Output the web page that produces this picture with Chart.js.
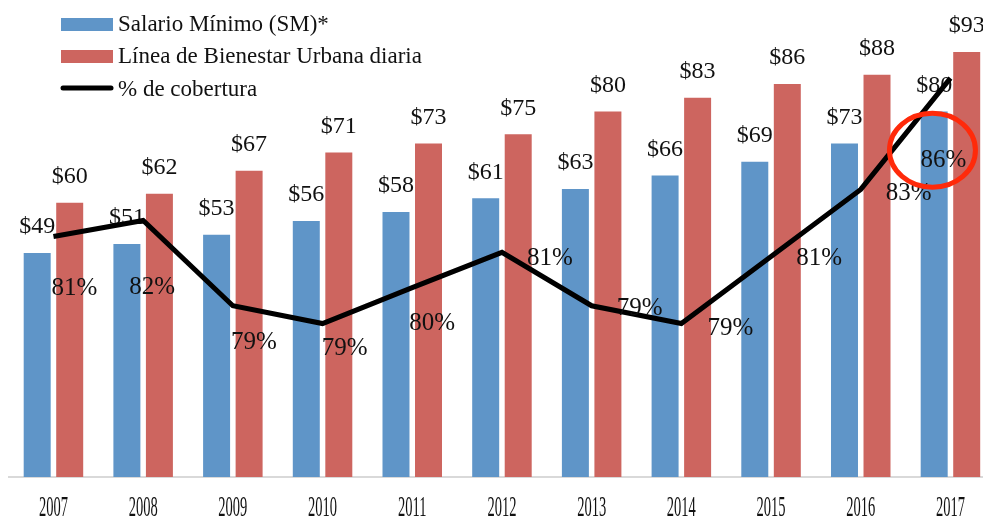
<!DOCTYPE html>
<html>
<head>
<meta charset="utf-8">
<script src="https://cdn.jsdelivr.net/npm/chart.js@4.4.0/dist/chart.umd.min.js"></script>
<style>
html, body { margin: 0; padding: 0; overflow: hidden; background: #fff; }
#wrap { width: 1000px; height: 517px; position: relative; }
</style>
</head>
<body>
<div id="wrap"><canvas id="grafica"></canvas></div>
<script>
var years = ["2007", "2008", "2009", "2010", "2011", "2012", "2013", "2014", "2015", "2016", "2017"];
var salarioMinimo = [49, 51, 53, 56, 58, 61, 63, 66, 69, 73, 80];
var lineaBienestar = [60, 62, 67, 71, 73, 75, 80, 83, 86, 88, 93];
var cobertura = [81.73, 82.16, 79.86, 79.38, 80.35, 81.30, 79.86, 79.38, 81.19, 83.0, 86.0];

// where each % label sits relative to its point (moved by hand in the original)
var pctDx = [21, 9, 21, 22, 20, 48, 48, 49, 48, 48, -7];
var pctDy = [52, 67, 37, 25, 36, 6, 3, 5, 2, 4, 82];

var azul = "#5f95c8";
var rojo = "#cd655f";
var serif = "'Liberation Serif', 'DejaVu Serif', serif";

var etiquetas = {
    id: "etiquetas",
    afterDatasetDraw: function (chart, args) {
        var ds = chart.data.datasets[args.index];
        if (ds.type !== "bar") return;
        var ctx = chart.ctx;
        ctx.save();
        ctx.font = "24px " + serif;
        ctx.fillStyle = "#111";
        ctx.textAlign = "center";
        ctx.textBaseline = "middle";
        args.meta.data.forEach(function (el, i) {
            ctx.fillText("$" + ds.data[i], el.x, el.y - 26);
        });
        ctx.restore();
    },
    afterDatasetsDraw: function (chart) {
        var ctx = chart.ctx;
        var lineMeta = chart.getDatasetMeta(2);

        // % labels
        ctx.save();
        ctx.font = "25px " + serif;
        ctx.fillStyle = "#111";
        ctx.textAlign = "center";
        ctx.textBaseline = "middle";
        lineMeta.data.forEach(function (pt, i) {
            ctx.fillText(Math.floor(cobertura[i]) + "%", pt.x + pctDx[i], pt.y + pctDy[i]);
        });

        // red circle around the last label
        var last = lineMeta.data[lineMeta.data.length - 1];
        var n = cobertura.length - 1;
        ctx.beginPath();
        ctx.ellipse(last.x + pctDx[n] - 11, last.y + pctDy[n] - 10, 43, 37, 0, 0, Math.PI * 2);
        ctx.strokeStyle = "#ff2a0a";
        ctx.lineWidth = 5;
        ctx.stroke();

        // year labels, narrow like the original
        var xs = chart.scales.x;
        ctx.fillStyle = "#111";
        ctx.font = "29px " + serif;
        years.forEach(function (y, i) {
            ctx.save();
            ctx.translate(xs.getPixelForValue(i), 508);
            ctx.scale(0.5, 1);
            ctx.fillText(y, 0, 0);
            ctx.restore();
        });

        // legend in the top left corner
        ctx.font = "23px " + serif;
        ctx.textAlign = "left";
        var rows = [24, 56, 89];
        chart.data.datasets.forEach(function (ds, i) {
            var y = rows[i];
            if (ds.type === "bar") {
                ctx.fillStyle = ds.backgroundColor;
                ctx.fillRect(61, y - 6, 52, 13);
            } else {
                ctx.beginPath();
                ctx.moveTo(63, y - 1);
                ctx.lineTo(111, y - 1);
                ctx.strokeStyle = "#000";
                ctx.lineWidth = 5;
                ctx.lineCap = "round";
                ctx.stroke();
            }
            ctx.fillStyle = "#111";
            ctx.fillText(ds.label, 118, y + 1);
        });
        ctx.restore();
    }
};

new Chart("grafica", {
    data: {
        labels: years,
        datasets: [{
            type: "bar",
            label: "Salario Mínimo (SM)*",
            data: salarioMinimo,
            backgroundColor: azul,
            order: 1,
            yAxisID: "y"
        }, {
            type: "bar",
            label: "Línea de Bienestar Urbana diaria",
            data: lineaBienestar,
            backgroundColor: rojo,
            order: 2,
            yAxisID: "y"
        }, {
            type: "line",
            label: "% de cobertura",
            data: cobertura,
            borderColor: "#000",
            borderWidth: 5,
            pointRadius: 0,
            tension: 0,
            fill: false,
            order: 0,
            yAxisID: "y1"
        }]
    },
    options: {
        responsive: true,
        maintainAspectRatio: false,
        animation: false,
        layout: { padding: { left: 8.6, right: 4.7, top: 20, bottom: 40 } },
        datasets: {
            bar: { categoryPercentage: 0.725, barPercentage: 0.83 }
        },
        plugins: {
            legend: { display: false },
            tooltip: { enabled: false }
        },
        scales: {
            x: {
                grid: { display: false, drawTicks: false },
                border: { display: true, color: "#d9d9d9", width: 2 },
                ticks: { display: false }
            },
            y: { display: false, min: 0, max: 100 },
            y1: { display: false, min: 75.24, max: 87.57 }
        }
    },
    plugins: [etiquetas]
});
</script>
</body>
</html>
